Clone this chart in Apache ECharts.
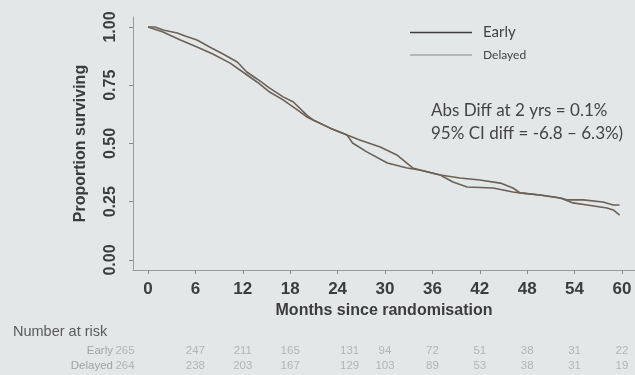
<!DOCTYPE html>
<html><head><meta charset="utf-8">
<script src="https://cdn.jsdelivr.net/npm/echarts@6/dist/echarts.min.js"></script>
<style>html,body{margin:0;padding:0;background:#e4e7e8}#c{width:635px;height:375px}</style>
</head><body><div id="c"></div>
<script>
const xTicks=[0,6,12,18,24,30,36,42,48,54,60];
const yTicks=[0,0.25,0.5,0.75,1];
const earlyMonths=[0,0.9,1.9,3.7,4.7,6.2,7.8,9.5,11.3,12.5,13.8,15.4,17.1,18.4,20.1,20.9,23.0,25.2,26.8,29.4,31.5,33.5,34.4,37.0,39.5,42.0,44.6,46.2,47.1,49.6,52.2,53.0,55.1,57.6,58.9,59.7];
const earlySurv=[1.000,1.000,0.987,0.974,0.961,0.944,0.914,0.884,0.850,0.807,0.777,0.738,0.700,0.678,0.622,0.601,0.567,0.536,0.515,0.485,0.451,0.395,0.386,0.365,0.352,0.343,0.330,0.309,0.288,0.279,0.266,0.258,0.258,0.249,0.236,0.236];
const delayedMonths=[0,1.9,4.1,6.2,8.2,10.4,12.0,13.8,15.4,17.1,18.9,20.1,20.9,23.0,25.2,25.9,27.7,30.3,32.8,34.4,37.0,38.6,40.4,43.7,46.2,47.1,49.6,52.2,53.8,55.6,58.1,58.9,59.7];
const delayedSurv=[1.000,0.979,0.944,0.914,0.884,0.845,0.807,0.764,0.721,0.687,0.644,0.614,0.601,0.567,0.536,0.502,0.464,0.416,0.395,0.386,0.365,0.335,0.313,0.309,0.292,0.288,0.279,0.266,0.245,0.236,0.223,0.215,0.193];
const riskMonths=[0,6,12,18,24,30,36,42,48,54,60];
const earlyRisk=[265,247,211,165,131,94,72,51,38,31,22];
const delayedRisk=[264,238,203,167,129,103,89,53,38,31,19];
const riskRows=['Delayed','Early'];
const annotation=['Abs Diff at 2 yrs = 0.1%','95% CI diff = -6.8 \u2013 6.3%)'];

const curveColor='#6b6158';
const narrow="'Liberation Sans Narrow','Liberation Sans',Arial,sans-serif";
const riskOffset=[[-23,0],[0,0],[0,0],[0,0],[12,0],[0,0],[0,0],[0,0],[0,0],[0,0],[0,0]];

const chart=echarts.init(document.getElementById('c'),null,{renderer:'canvas'});
chart.setOption({
  backgroundColor:'#e4e7e8',
  animation:false,
  grid:[
    {left:133,right:0,top:17,bottom:105},
    {left:133,right:0,top:343,height:30}
  ],
  xAxis:[
    {type:'value',gridIndex:0,min:-1.9,max:61.65,
     axisLine:{show:true,onZero:false,lineStyle:{color:'#9a9a9a',width:1}},
     axisTick:{show:true,length:4,customValues:xTicks,lineStyle:{color:'#8a8a8a'}},
     axisLabel:{customValues:xTicks,fontFamily:narrow,fontWeight:'bold',fontSize:17,color:'#3c3c3c',margin:11},
     splitLine:{show:false},
     name:'Months since randomisation',nameLocation:'middle',nameGap:29,
     nameTextStyle:{fontFamily:narrow,fontWeight:'bold',fontSize:16,color:'#3c3c3c'}},
    {type:'value',gridIndex:1,min:-1.9,max:61.65,show:false}
  ],
  yAxis:[
    {type:'value',gridIndex:0,min:-0.043,max:1.043,
     axisLine:{show:true,onZero:false,lineStyle:{color:'#9a9a9a',width:1}},
     axisTick:{show:true,length:4,customValues:yTicks,lineStyle:{color:'#8a8a8a'}},
     axisLabel:{customValues:yTicks,rotate:90,fontFamily:narrow,fontWeight:'bold',fontSize:16,color:'#3c3c3c',margin:14,
       formatter:v=>v.toFixed(2)},
     splitLine:{show:false},
     name:'Proportion surviving',nameLocation:'middle',nameGap:44,
     nameTextStyle:{fontFamily:narrow,fontWeight:'bold',fontSize:16,color:'#3c3c3c'}},
    {type:'category',gridIndex:1,data:riskRows,
     axisLine:{show:false},axisTick:{show:false},
     axisLabel:{interval:0,hideOverlap:false,fontFamily:narrow,fontSize:11.5,color:'#a2a2a2',margin:20}}
  ],
  legend:{
    orient:'vertical',left:405,top:20,itemGap:9,
    icon:'rect',itemWidth:62,itemHeight:1.5,
    textStyle:{fontFamily:'Lato, Carlito, sans-serif',color:'#444',padding:[0,0,0,6]},
    data:[
      {name:'Early',itemStyle:{color:'#3d3d3d'},textStyle:{fontSize:15}},
      {name:'Delayed',itemStyle:{color:'#a8a8a8'},textStyle:{fontSize:12}}
    ]
  },
  graphic:[
    {type:'text',left:431,top:102,style:{text:annotation[0],font:'17px Lato, Carlito, sans-serif',fill:'#444'}},
    {type:'text',left:431,top:125,style:{text:annotation[1],font:'17px Lato, Carlito, sans-serif',fill:'#444'}},
    {type:'text',left:13,top:324,style:{text:'Number at risk',font:'14.5px "Liberation Sans", Arial, sans-serif',fill:'#5a5a5a'}}
  ],
  series:[
    {name:'Early',type:'line',xAxisIndex:0,yAxisIndex:0,symbol:'none',
     lineStyle:{color:curveColor,width:1.6},itemStyle:{color:curveColor},
     data:earlyMonths.map((m,i)=>[m,earlySurv[i]])},
    {name:'Delayed',type:'line',xAxisIndex:0,yAxisIndex:0,symbol:'none',
     lineStyle:{color:curveColor,width:1.6},itemStyle:{color:curveColor},
     data:delayedMonths.map((m,i)=>[m,delayedSurv[i]])},
    {name:'riskEarly',type:'scatter',xAxisIndex:1,yAxisIndex:1,symbolSize:0,silent:true,
     label:{show:true,position:'inside',fontFamily:narrow,fontSize:11.5,color:'#a8a8a8',formatter:p=>p.value[2]},
     data:riskMonths.map((m,i)=>({value:[m,'Early',earlyRisk[i]],label:{offset:riskOffset[i]}}))},
    {name:'riskDelayed',type:'scatter',xAxisIndex:1,yAxisIndex:1,symbolSize:0,silent:true,
     label:{show:true,position:'inside',fontFamily:narrow,fontSize:11.5,color:'#a8a8a8',formatter:p=>p.value[2]},
     data:riskMonths.map((m,i)=>({value:[m,'Delayed',delayedRisk[i]],label:{offset:riskOffset[i]}}))}
  ]
});
</script></body></html>
